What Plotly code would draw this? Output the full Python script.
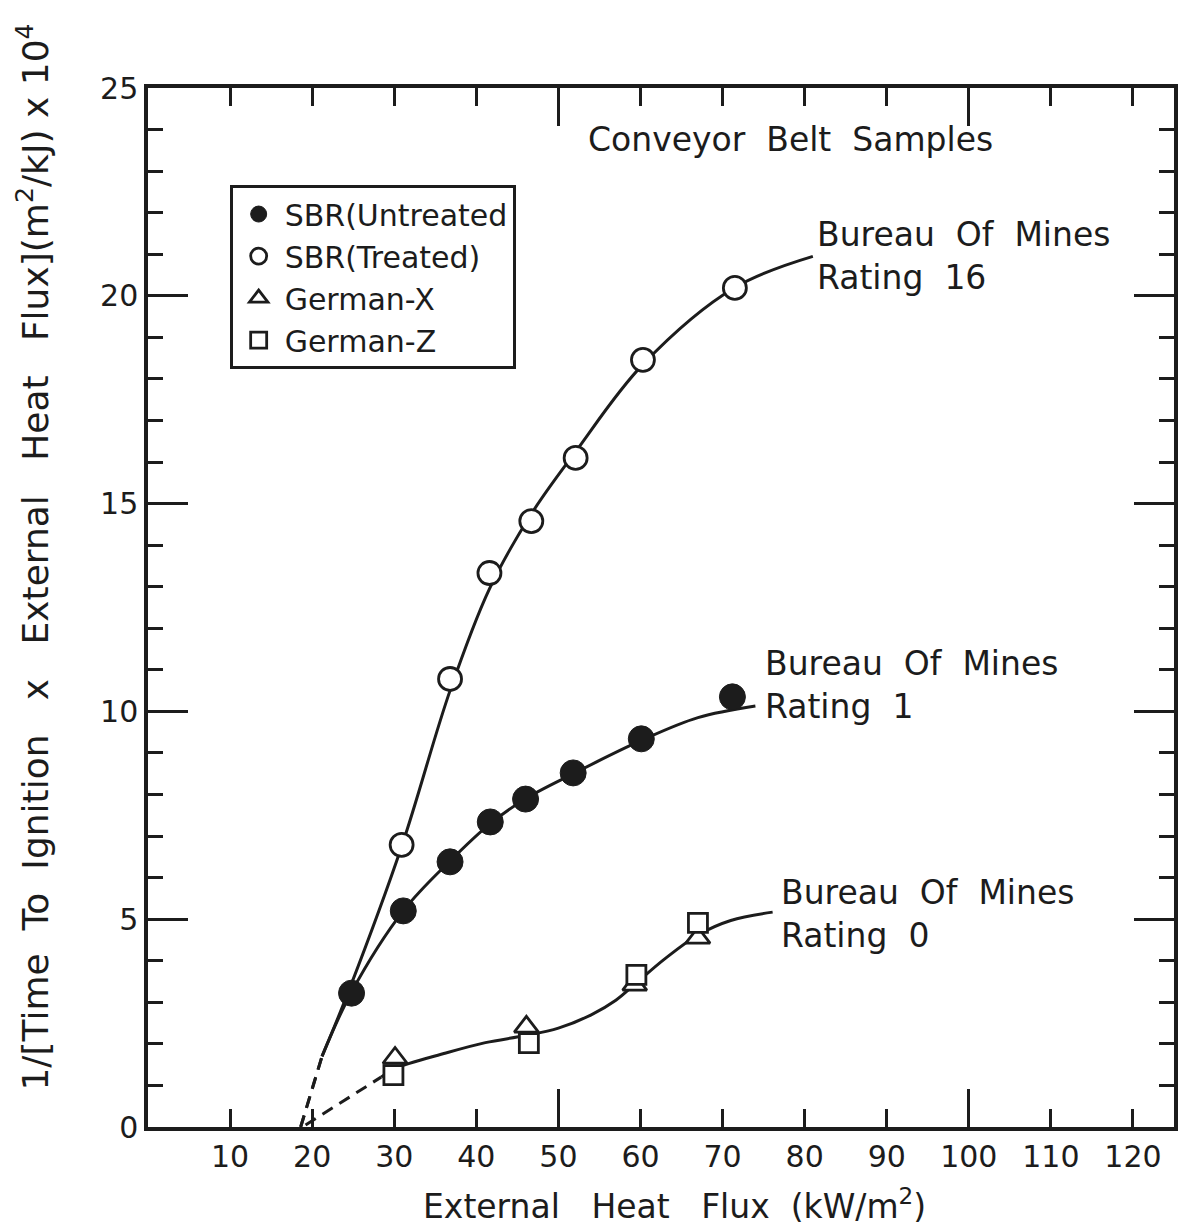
import plotly.graph_objects as go

# ---------------- data ----------------
untreated_x = [24.8, 31.1, 36.8, 41.7, 46.0, 51.8, 60.1, 71.2]
untreated_y = [3.22, 5.20, 6.38, 7.34, 7.89, 8.52, 9.34, 10.35]

treated_x = [30.9, 36.8, 41.6, 46.7, 52.1, 60.3, 71.5]
treated_y = [6.79, 10.78, 13.33, 14.58, 16.10, 18.46, 20.19]

germanx_x = [30.1, 46.1, 59.3, 67.0]
germanx_y = [1.66, 2.41, 3.42, 4.55]

germanz_x = [29.9, 46.4, 59.5, 67.0]
germanz_y = [1.25, 2.02, 3.66, 4.91]

# hand-drawn fitted curves
treated_curve_x = [21.2, 24.5, 30.9, 36.8, 41.6, 46.7, 52.1, 60.3, 71.5, 81.0]
treated_curve_y = [1.70, 3.30, 6.75, 10.50, 12.95, 14.75, 16.25, 18.35, 20.20, 20.95]
treated_dash_x = [18.6, 21.2]
treated_dash_y = [0.0, 1.70]

untreated_curve_x = [21.2, 24.8, 31.1, 36.8, 41.7, 46.0, 51.8, 60.1, 67.0, 74.0]
untreated_curve_y = [1.70, 3.25, 5.20, 6.40, 7.30, 7.90, 8.50, 9.30, 9.85, 10.13]
untreated_dash_x = [18.6, 21.2]
untreated_dash_y = [0.0, 1.70]

german_curve_x = [28.4, 30.0, 36.3, 41.1, 46.0, 50.0, 54.0, 57.0, 59.4, 63.0, 67.0, 71.0, 76.1]
german_curve_y = [1.20, 1.40, 1.78, 2.03, 2.20, 2.38, 2.70, 3.05, 3.45, 4.05, 4.62, 4.97, 5.17]
german_dash_x = [19.2, 28.4]
german_dash_y = [0.05, 1.20]

x_tickvals = [10, 20, 30, 40, 50, 60, 70, 80, 90, 100, 110, 120]
x_long_ticks = [50, 100]
y_tickvals = [0, 5, 10, 15, 20, 25]

INK = "#1c1c1c"
FONT = "DejaVu Sans"

fig = go.Figure()

def curve(xs, ys, dash="solid"):
    fig.add_trace(go.Scatter(x=xs, y=ys, mode="lines", showlegend=False,
                             line=dict(color=INK, width=3, shape="spline", dash=dash),
                             hoverinfo="skip"))

curve(treated_dash_x, treated_dash_y, "12px,8px")
curve(untreated_dash_x, untreated_dash_y, "12px,8px")
curve(german_dash_x, german_dash_y, "12px,8px")
curve(treated_curve_x, treated_curve_y)
curve(untreated_curve_x, untreated_curve_y)
curve(german_curve_x, german_curve_y)

fig.add_trace(go.Scatter(x=untreated_x, y=untreated_y, mode="markers", name="SBR(Untreated",
                         marker=dict(symbol="circle", size=26, color=INK, line=dict(color=INK, width=1))))
fig.add_trace(go.Scatter(x=treated_x, y=treated_y, mode="markers", name="SBR(Treated)",
                         marker=dict(symbol="circle", size=23, color="white", line=dict(color=INK, width=2.8))))
fig.add_trace(go.Scatter(x=germanx_x, y=germanx_y, mode="markers", name="German-X",
                         marker=dict(symbol="triangle-up", size=21, color="white", line=dict(color=INK, width=2.8))))
fig.add_trace(go.Scatter(x=germanz_x, y=germanz_y, mode="markers", name="German-Z",
                         marker=dict(symbol="square", size=19, color="white", line=dict(color=INK, width=2.8))))

# overlay axis for the longer ticks at 50 and 100
fig.add_trace(go.Scatter(x=[None], y=[None], xaxis="x2", showlegend=False))

fig.update_layout(
    width=1179, height=1218,
    margin=dict(l=140, r=9, t=80, b=99),
    paper_bgcolor="white", plot_bgcolor="white",
    font=dict(family=FONT, color=INK, size=30),
    xaxis=dict(range=[0, 125], tickvals=x_tickvals, ticks="inside", ticklen=18, tickwidth=3,
               tickcolor=INK, showline=True, linewidth=3.5, linecolor=INK, mirror="ticks",
               showgrid=False, zeroline=False, tickfont=dict(size=30, family=FONT, color=INK)),
    xaxis2=dict(range=[0, 125], overlaying="x", side="bottom", tickvals=x_long_ticks,
                ticks="inside", ticklen=38, tickwidth=3, tickcolor=INK, showticklabels=False,
                showline=False, mirror="ticks", showgrid=False, zeroline=False),
    yaxis=dict(range=[0, 25], tickvals=y_tickvals, ticks="inside", ticklen=40, tickwidth=3,
               tickcolor=INK, showline=True, linewidth=3.5, linecolor=INK, mirror="ticks",
               showgrid=False, zeroline=False, tickfont=dict(size=30, family=FONT, color=INK),
               minor=dict(dtick=1, ticks="inside", ticklen=15, tickwidth=3, tickcolor=INK, showgrid=False)),
    legend=dict(x=0.0796, y=0.9066, xanchor="left", yanchor="top",
                bordercolor=INK, borderwidth=3, bgcolor="white",
                font=dict(size=30, family=FONT, color=INK), itemsizing="trace",
                tracegroupgap=0, itemwidth=42),
    showlegend=True,
)

annos = [
    dict(text="Conveyor  Belt  Samples", x=53.4, y=23.77, xanchor="left", yanchor="middle"),
    dict(text="Bureau  Of  Mines<br>Rating  16", x=81.3, y=20.96, xanchor="left", yanchor="middle", align="left"),
    dict(text="Bureau  Of  Mines<br>Rating  1", x=74.9, y=10.63, xanchor="left", yanchor="middle", align="left"),
    dict(text="Bureau  Of  Mines<br>Rating  0", x=76.9, y=5.12, xanchor="left", yanchor="middle", align="left"),
]
for a in annos:
    fig.add_annotation(xref="x", yref="y", showarrow=False,
                       font=dict(size=33, family=FONT, color=INK), **a)

fig.add_annotation(xref="paper", yref="paper", x=0.5136, y=-0.075, showarrow=False,
                   xanchor="center", yanchor="middle",
                   text="External   Heat   Flux  (kW/m<sup>2</sup>)",
                   font=dict(size=33, family=FONT, color=INK))
fig.add_annotation(xref="paper", yref="paper", x=-0.1125, y=0.5486, showarrow=False,
                   xanchor="center", yanchor="middle", textangle=-90,
                   text="1/[Time  To  Ignition   x   External   Heat   Flux](m<sup>2</sup>/kJ) x 10<sup>4</sup>",
                   font=dict(size=36, family=FONT, color=INK))

fig.write_html("out.html")
